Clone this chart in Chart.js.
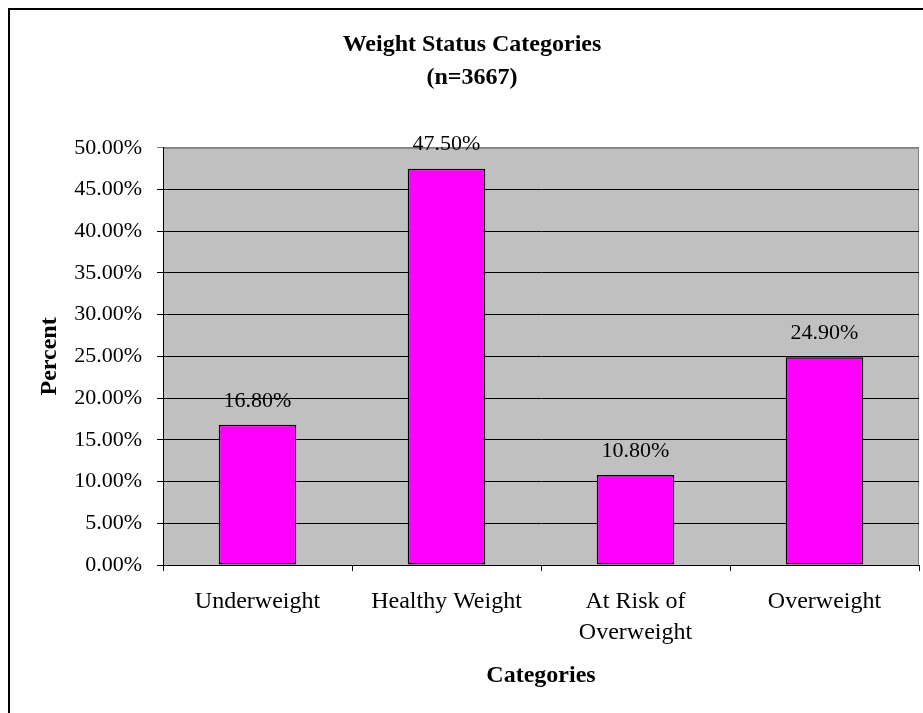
<!DOCTYPE html>
<html>
<head>
<meta charset="utf-8">
<script src="https://cdn.jsdelivr.net/npm/chart.js@4"></script>
<style>
  body { margin: 0; background: #fff; }
  #wrap { width: 923px; height: 713px; }
</style>
</head>
<body>
<div id="wrap"><canvas id="weightChart"></canvas></div>
<script>
const categories = ['Underweight', 'Healthy Weight', ['At Risk of', 'Overweight'], 'Overweight'];
const percentValues = [16.8, 47.5, 10.8, 24.9];
const chartTitle = ['Weight Status Categories', '(n=3667)'];
const xTitle = 'Categories';
const yTitle = 'Percent';

const serif = "'Liberation Serif', 'Times New Roman', serif";

// fundo branco, moldura e área do gráfico cinza
const framePlugin = {
    id: 'frame',
    beforeDraw(chart) {
        const ctx = chart.ctx;
        const a = chart.chartArea;
        ctx.save();
        ctx.fillStyle = '#ffffff';
        ctx.fillRect(0, 0, chart.width, chart.height);
        ctx.strokeStyle = '#000000';
        ctx.lineWidth = 2;
        ctx.beginPath();
        ctx.moveTo(9, chart.height);
        ctx.lineTo(9, 9);
        ctx.lineTo(chart.width, 9);
        ctx.stroke();
        ctx.fillStyle = '#c0c0c0';
        ctx.fillRect(a.left, a.top, a.right - a.left, a.bottom - a.top);
        ctx.strokeStyle = '#808080';
        ctx.lineWidth = 1;
        ctx.strokeRect(a.left + 0.5, a.top + 0.5, a.right - a.left - 1, a.bottom - a.top);
        ctx.restore();
    }
};

// rótulos de valor acima das barras
const valueLabels = {
    id: 'valueLabels',
    afterDatasetsDraw(chart) {
        const ctx = chart.ctx;
        ctx.save();
        ctx.font = '22px ' + serif;
        ctx.fillStyle = '#000';
        ctx.textAlign = 'center';
        ctx.textBaseline = 'middle';
        chart.getDatasetMeta(0).data.forEach((bar, i) => {
            ctx.fillText(percentValues[i].toFixed(2) + '%', bar.x, bar.y - 24);
        });
        ctx.restore();
    }
};

function renderChart() {
    const ctx = document.getElementById('weightChart').getContext('2d');
    new Chart(ctx, {
        type: 'bar',
        data: {
            labels: categories,
            datasets: [{
                label: yTitle,
                data: percentValues,
                backgroundColor: '#ff00ff',
                borderColor: '#000000',
                borderWidth: 1.5,
                borderSkipped: false,
                categoryPercentage: 1,
                barPercentage: 0.41
            }]
        },
        options: {
            responsive: true,
            maintainAspectRatio: false,
            animation: false,
            layout: { padding: { left: 25, right: 4, top: 0, bottom: 0 } },
            plugins: {
                legend: { display: false },
                tooltip: { enabled: false },
                title: {
                    display: true,
                    text: chartTitle,
                    color: '#000',
                    font: { family: serif, size: 24, weight: 'bold', lineHeight: 1.35 },
                    padding: { top: 29, bottom: 54 }
                }
            },
            scales: {
                x: {
                    afterFit: s => { s.height = 148; },
                    border: { display: true, color: '#000', width: 1 },
                    grid: { display: true, drawOnChartArea: false, drawTicks: true, tickLength: 6, color: '#000', offset: true },
                    ticks: {
                        color: '#000',
                        padding: 15,
                        maxRotation: 0,
                        font: { family: serif, size: 24, lineHeight: 1.3 }
                    },
                    title: {
                        display: true,
                        text: xTitle,
                        color: '#000',
                        font: { family: serif, size: 24, weight: 'bold', lineHeight: 1.2 },
                        padding: { top: 4, bottom: 23 }
                    }
                },
                y: {
                    min: 0,
                    max: 50,
                    afterFit: s => { s.width = 138; },
                    border: { display: true, color: '#000', width: 1 },
                    grid: {
                        color: c => (c.tick && c.tick.value === 50 ? '#808080' : '#000'),
                        tickLength: 6,
                        drawTicks: true
                    },
                    ticks: {
                        stepSize: 5,
                        color: '#000',
                        padding: 15,
                        font: { family: serif, size: 22 },
                        callback: v => v.toFixed(2) + '%'
                    },
                    title: {
                        display: true,
                        text: yTitle,
                        color: '#000',
                        font: { family: serif, size: 24, weight: 'bold', lineHeight: 1.2 },
                        padding: { top: 10, bottom: 0 }
                    }
                }
            }
        },
        plugins: [framePlugin, valueLabels]
    });
}

renderChart();
</script>
</body>
</html>
